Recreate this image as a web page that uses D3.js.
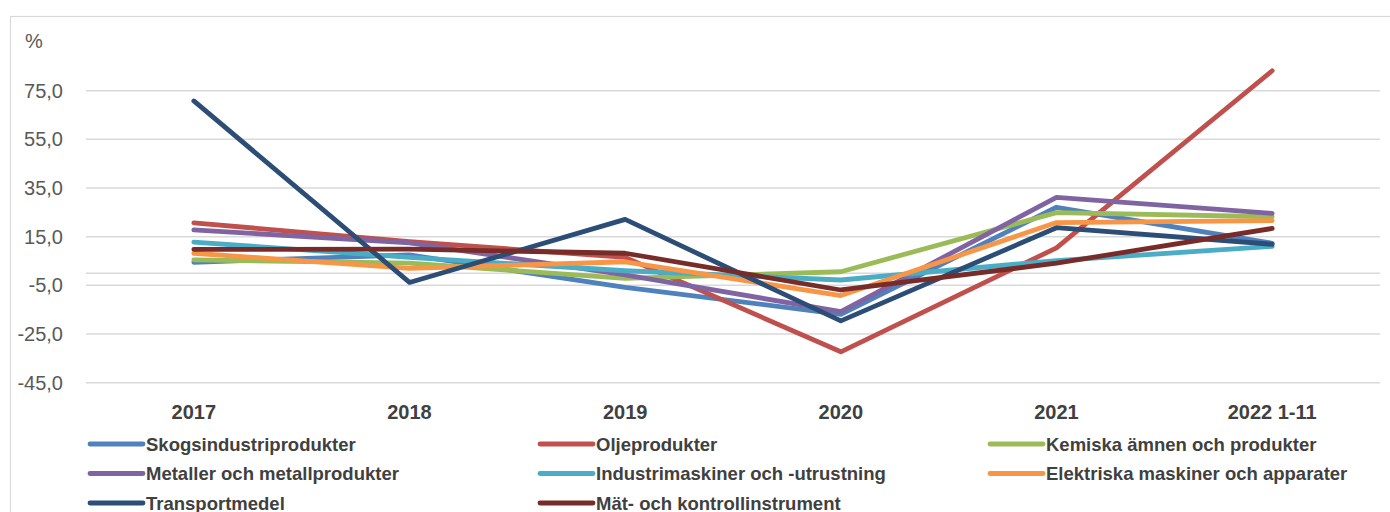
<!DOCTYPE html>
<meta charset="utf-8">
<style>
  body { margin: 0; background: #fff; }
  .grid line { stroke: #d9d9d9; stroke-width: 1.5px; }
  .yaxis text { font-family: "Liberation Sans", Arial, sans-serif; font-size: 20px; fill: #595959; }
  .xaxis text { font-family: "Liberation Sans", Arial, sans-serif; font-size: 20px; font-weight: bold; fill: #404040; }
  .legend text { font-family: "Liberation Sans", Arial, sans-serif; font-size: 18.5px; font-weight: bold; fill: #404040; }
</style>
<body>
<script src="https://cdn.jsdelivr.net/npm/d3@7"></script>
<script>

var categories = ["2017", "2018", "2019", "2020", "2021", "2022 1-11"];
var yTicks = [-45, -25, -5, 15, 35, 55, 75];

var seriesNames = [
  "Skogsindustriprodukter", "Oljeprodukter", "Kemiska ämnen och produkter",
  "Metaller och metallprodukter", "Industrimaskiner och -utrustning", "Elektriska maskiner och apparater",
  "Transportmedel", "Mät- och kontrollinstrument"
];
var colors = ["#4f81bd", "#c0504d", "#9bbb59", "#8064a2", "#4bacc6", "#f79646", "#2c4d75", "#772c2a"];

var skog       = [4.5, 7.5, -5.8, -16.9, 27.1, 12.3];
var olje       = [20.7, 13.0, 6.5, -32.3, 10.4, 83.2];
var kemiska    = [5.5, 4.1, -2.1, 0.6, 24.9, 23.2];
var metaller   = [17.8, 12.5, -0.7, -15.8, 31.2, 24.6];
var industri   = [12.8, 6.5, 1.0, -2.8, 5.2, 11.0];
var elektriska = [8.2, 2.0, 4.7, -9.2, 20.8, 21.6];
var transport  = [70.8, -3.8, 22.1, -19.6, 18.7, 11.9];
var mat        = [9.8, 9.9, 8.2, -6.9, 4.1, 18.4];

var values = [skog, olje, kemiska, metaller, industri, elektriska, transport, mat];

var W = 1390, H = 512;
var svg = d3.select("body").append("svg").attr("width", W).attr("height", H);

// chart frame
svg.append("rect")
    .attr("x", 10.5).attr("y", 16.5)
    .attr("width", W + 10).attr("height", H + 10)
    .attr("fill", "none").attr("stroke", "#d9d9d9").attr("stroke-width", 1.2);

var x = d3.scalePoint().domain(categories).range([86, 1380]).padding(0.5);
var y = d3.scaleLinear().domain([-45, 85]).range([382.7, 382.7 - 130 * 2.4333]);

// gridlines
svg.append("g").attr("class", "grid").selectAll("line")
    .data(yTicks.concat([0]))
  .enter().append("line")
    .attr("x1", 86).attr("x2", 1380)
    .attr("y1", function(d) { return y(d); })
    .attr("y2", function(d) { return y(d); });

// y axis labels
svg.append("g").attr("class", "yaxis").selectAll("text")
    .data(yTicks)
  .enter().append("text")
    .attr("x", 63)
    .attr("y", function(d) { return y(d) + 7; })
    .attr("text-anchor", "end")
    .text(function(d) { return d.toFixed(1).replace(".", ","); });

svg.append("text")
    .attr("x", 25).attr("y", 48)
    .style("font-family", "Liberation Sans, Arial, sans-serif")
    .style("font-size", "20px").style("fill", "#595959")
    .text("%");

// x axis labels
svg.append("g").attr("class", "xaxis").selectAll("text")
    .data(categories)
  .enter().append("text")
    .attr("x", function(d) { return x(d); })
    .attr("y", 419)
    .attr("text-anchor", "middle")
    .text(function(d) { return d; });

// lines
var line = d3.line()
    .x(function(d, i) { return x(categories[i]); })
    .y(function(d) { return y(d); });

svg.append("g").selectAll("path")
    .data(values)
  .enter().append("path")
    .attr("d", line)
    .attr("fill", "none")
    .attr("stroke", function(d, i) { return colors[i]; })
    .attr("stroke-width", 4.8)
    .attr("stroke-linecap", "round")
    .attr("stroke-linejoin", "round");

// legend, three columns
var legend = svg.append("g").attr("class", "legend").selectAll("g")
    .data(seriesNames)
  .enter().append("g")
    .attr("transform", function(d, i) {
      return "translate(" + (90 + (i % 3) * 450) + "," + (444 + Math.floor(i / 3) * 29.5) + ")";
    });

legend.append("line")
    .attr("x1", 0).attr("x2", 53)
    .attr("stroke", function(d, i) { return colors[i]; })
    .attr("stroke-width", 4.8)
    .attr("stroke-linecap", "round");

legend.append("text")
    .attr("x", 56).attr("y", 6.5)
    .text(function(d) { return d; });

</script>
